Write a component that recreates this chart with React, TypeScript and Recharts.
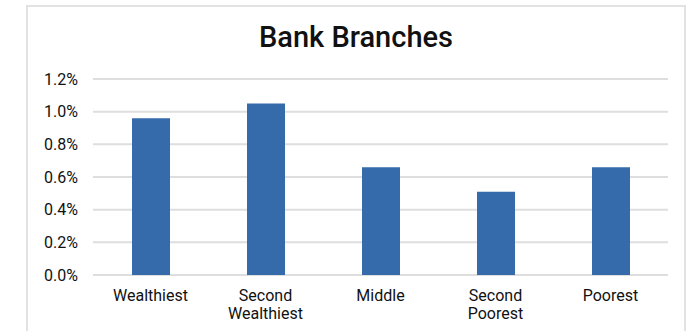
import { BarChart, Bar, XAxis, YAxis, CartesianGrid } from "recharts";

const categories = ["Wealthiest", "Second Wealthiest", "Middle", "Second Poorest", "Poorest"];
const branchShare = [0.0096, 0.0105, 0.0066, 0.0051, 0.0066];
const yTicks = [0, 0.002, 0.004, 0.006, 0.008, 0.01, 0.012];

const data = categories.map((name, i) => ({ name, value: branchShare[i] }));

const FONT = "Roboto, 'Noto Sans', sans-serif";

// split multi-word labels onto two lines like the original
function CategoryTick(props: any) {
  const { x, y, payload } = props;
  const words = String(payload.value).split(" ");
  return (
    <text x={x} y={y} textAnchor="middle" fill="#111" fontSize={16} fontFamily={FONT}>
      {words.map((w: string, i: number) => (
        <tspan key={i} x={x} dy={18}>
          {w}
        </tspan>
      ))}
    </text>
  );
}

export default function App() {
  return (
    <div style={{ position: "relative", width: 688, height: 331, overflow: "hidden", background: "#fff" }}>
      <style>{"body{margin:0}"}</style>
      <div
        style={{
          position: "absolute",
          left: 26,
          top: 5,
          width: 656,
          height: 400,
          border: "2px solid #e2e2e2",
        }}
      />
      <div
        style={{
          position: "absolute",
          left: 26,
          width: 660,
          top: 20,
          textAlign: "center",
          fontFamily: FONT,
          fontSize: 29,
          fontWeight: 500,
          color: "#111",
        }}
      >
        Bank Branches
      </div>
      <div style={{ position: "absolute", left: 0, top: 0 }}>
        <BarChart width={688} height={331} data={data} margin={{ top: 79, right: 20, bottom: 0, left: 0 }}>
          <CartesianGrid horizontal vertical={false} stroke="#dedede" strokeWidth={2} />
          <XAxis
            dataKey="name"
            height={56}
            axisLine={false}
            tickLine={false}
            interval={0}
            tick={<CategoryTick />}
          />
          <YAxis
            width={93}
            domain={[0, 0.012]}
            ticks={yTicks}
            axisLine={false}
            tickLine={false}
            tickMargin={9}
            tickFormatter={(v: number) => `${(v * 100).toFixed(1)}%`}
            tick={{ fill: "#111", fontSize: 16, fontFamily: FONT }}
          />
          <Bar dataKey="value" fill="#356aab" barSize={38} isAnimationActive={false} />
        </BarChart>
      </div>
    </div>
  );
}
